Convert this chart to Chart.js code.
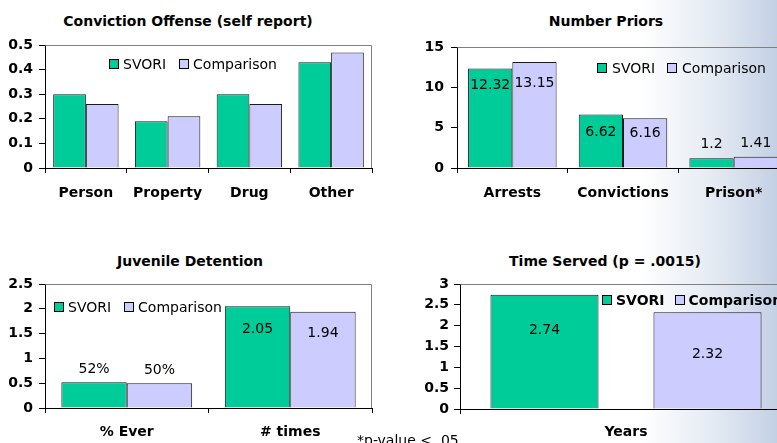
<!DOCTYPE html>
<html><head><meta charset="utf-8">
<script src="https://cdn.jsdelivr.net/npm/chart.js@4/dist/chart.umd.min.js"></script>
<style>
html,body{margin:0;padding:0;width:777px;height:443px;overflow:hidden;}
body{position:relative;background:linear-gradient(to right,#ffffff 0px,#ffffff 640px,#e4eaf3 715px,#c3d0e4 777px);font-family:"DejaVu Sans",sans-serif;color:#000;}
canvas{position:absolute;}
.title{position:absolute;font-weight:bold;font-size:14px;line-height:16px;white-space:nowrap;transform:translateX(-50%);}
.legend{position:absolute;display:flex;align-items:center;font-size:14px;line-height:14px;height:14px;white-space:nowrap;}
.legend .box{width:8px;height:8px;border:1px solid #000;flex:none;}
.note{position:absolute;left:357px;top:433px;font-size:14px;line-height:14px;white-space:nowrap;}
</style>
</head><body>
<canvas id="c1" width="380" height="180" style="left:0;top:30px"></canvas>
<canvas id="c2" width="400" height="180" style="left:390px;top:30px"></canvas>
<canvas id="c3" width="380" height="173" style="left:0;top:270px"></canvas>
<canvas id="c4" width="410" height="173" style="left:390px;top:270px"></canvas>

<div class="title" style="left:188px;top:13px">Conviction Offense (self report)</div>
<div class="title" style="left:606px;top:13px">Number Priors</div>
<div class="title" style="left:190px;top:253px">Juvenile Detention</div>
<div class="title" style="left:605px;top:253px">Time Served (p = .0015)</div>

<div id="lg1" class="legend" style="left:109px;top:57px"></div>
<div id="lg2" class="legend" style="left:597px;top:61px"></div>
<div id="lg3" class="legend" style="left:54px;top:300px"></div>
<div id="lg4" class="legend" style="left:602px;top:293px;font-weight:bold"></div>
<div class="note">*p-value &lt; .05</div>

<script>
// ---- data ----
const seriesNames = ["SVORI", "Comparison"];
const offenseCategories = ["Person", "Property", "Drug", "Other"];
const offenseSvori = [0.30, 0.19, 0.30, 0.43];
const offenseComparison = [0.26, 0.21, 0.26, 0.47];

const priorsCategories = ["Arrests", "Convictions", "Prison*"];
const priorsSvori = [12.32, 6.62, 1.2];
const priorsComparison = [13.15, 6.16, 1.41];
const priorsSvoriLabels = ["12.32", "6.62", "1.2"];
const priorsComparisonLabels = ["13.15", "6.16", "1.41"];

const juvenileCategories = ["% Ever", "# times"];
const juvenileSvori = [0.52, 2.05];
const juvenileComparison = [0.50, 1.94];
const juvenileSvoriLabels = ["52%", "2.05"];
const juvenileComparisonLabels = ["50%", "1.94"];

const timeCategories = ["Years"];
const timeSvori = [2.74];
const timeComparison = [2.32];
const timeSvoriLabels = ["2.74"];
const timeComparisonLabels = ["2.32"];

// ---- style ----
const GREEN = "#00CC99", LAV = "#CCCCFF", EDGE = "#1a1a1a";
Chart.defaults.font.family = '"DejaVu Sans", sans-serif';
Chart.defaults.color = "#000";

const valueLabels = {
  id: "valueLabels",
  afterDatasetsDraw(chart, args, opts) {
    if (!opts.texts) return;
    const ctx = chart.ctx;
    ctx.save();
    ctx.font = '14px "DejaVu Sans", sans-serif';
    ctx.fillStyle = "#000";
    ctx.textAlign = "center";
    ctx.textBaseline = "middle";
    chart.data.datasets.forEach((ds, i) => {
      chart.getDatasetMeta(i).data.forEach((bar, j) => {
        ctx.fillText(opts.texts[i][j], bar.x, bar.y + opts.offsets[i][j]);
      });
    });
    ctx.restore();
  }
};
const plotFrame = {
  id: "plotFrame",
  beforeDatasetsDraw(chart, args, opts) {
    const a = chart.chartArea, ctx = chart.ctx;
    ctx.save();
    ctx.strokeStyle = opts.color || "#808080";
    ctx.lineWidth = 1;
    ctx.beginPath();
    ctx.moveTo(Math.round(a.left) + 0.5, Math.round(a.top) + 0.5);
    ctx.lineTo(Math.round(a.right) - 0.5, Math.round(a.top) + 0.5);
    ctx.lineTo(Math.round(a.right) - 0.5, Math.round(a.bottom));
    ctx.stroke();
    ctx.restore();
  }
};

function makeChart(id, cfg) {
  const barPct = cfg.barPct || 1.0, catPct = cfg.catPct || 0.8;
  const datasets = [
    { label: seriesNames[0], data: cfg.a, backgroundColor: GREEN, borderColor: EDGE, borderWidth: 1,
      barPercentage: barPct, categoryPercentage: catPct },
    { label: seriesNames[1], data: cfg.b, backgroundColor: LAV, borderColor: EDGE, borderWidth: 1,
      barPercentage: barPct, categoryPercentage: catPct }
  ];
  return new Chart(document.getElementById(id), {
    type: "bar",
    data: { labels: cfg.labels, datasets },
    options: {
      responsive: false, animation: false, devicePixelRatio: 1,
      layout: { padding: { top: cfg.padTop, right: cfg.padRight, left: 0, bottom: 0 } },
      plugins: {
        legend: { display: false }, title: { display: false }, tooltip: { enabled: false },
        valueLabels: cfg.valueLabels || {},
        plotFrame: {}
      },
      scales: {
        x: {
          grid: { offset: true, drawOnChartArea: false, drawTicks: true, tickLength: 5, color: "#000" },
          border: { color: "#000", width: 1 },
          ticks: { font: { size: 14, weight: "bold" }, padding: cfg.xPad, color: "#000", maxRotation: 0, autoSkip: false },
          afterFit: s => { s.height = cfg.xH; s.paddingLeft = 0; s.paddingRight = 0; }
        },
        y: {
          min: 0, max: cfg.yMax,
          grid: { drawOnChartArea: false, drawTicks: true, tickLength: 6, color: "#000" },
          border: { color: "#000", width: 1 },
          ticks: { stepSize: cfg.step, font: { size: 14, weight: "bold" }, padding: cfg.yPad, color: "#000",
            callback: v => String(Number(Number(v).toFixed(2))) },
          afterFit: s => { s.width = cfg.yW; s.paddingTop = 0; s.paddingBottom = 0; }
        }
      }
    },
    plugins: [valueLabels, plotFrame]
  });
}

makeChart("c1", { labels: offenseCategories, a: offenseSvori, b: offenseComparison,
  yMax: 0.5, step: 0.1, padTop: 15, padRight: 8, yW: 45, xH: 42, xPad: 12, yPad: 6 });

makeChart("c2", { labels: priorsCategories, a: priorsSvori, b: priorsComparison,
  yMax: 15, step: 5, padTop: 17, padRight: 1, yW: 67, xH: 42, xPad: 12, yPad: 7,
  valueLabels: { texts: [priorsSvoriLabels, priorsComparisonLabels], offsets: [[17, 18, -14], [21, 15, -13]] } });

makeChart("c3", { labels: juvenileCategories, a: juvenileSvori, b: juvenileComparison,
  yMax: 2.5, step: 0.5, padTop: 14, padRight: 8, yW: 45, xH: 35, xPad: 11, yPad: 6,
  valueLabels: { texts: [juvenileSvoriLabels, juvenileComparisonLabels], offsets: [[-13, 23], [-13, 22]] } });

makeChart("c4", { labels: timeCategories, a: timeSvori, b: timeComparison,
  yMax: 3, step: 0.5, padTop: 14, padRight: 8, yW: 70, xH: 34, xPad: 10, yPad: 5,
  barPct: 0.663, catPct: 0.982,
  valueLabels: { texts: [timeSvoriLabels, timeComparisonLabels], offsets: [[36], [42]] } });

// ---- legends ----
function legend(id, boxGap, itemGap) {
  const el = document.getElementById(id);
  [GREEN, LAV].forEach((c, i) => {
    const b = document.createElement("span");
    b.className = "box"; b.style.background = c;
    if (i > 0) b.style.marginLeft = itemGap + "px";
    const t = document.createElement("span");
    t.textContent = seriesNames[i];
    t.style.marginLeft = boxGap + "px";
    el.appendChild(b); el.appendChild(t);
  });
}
legend("lg1", 4, 13);
legend("lg2", 5, 12);
legend("lg3", 4, 13);
legend("lg4", 4, 10);
</script>
</body></html>
